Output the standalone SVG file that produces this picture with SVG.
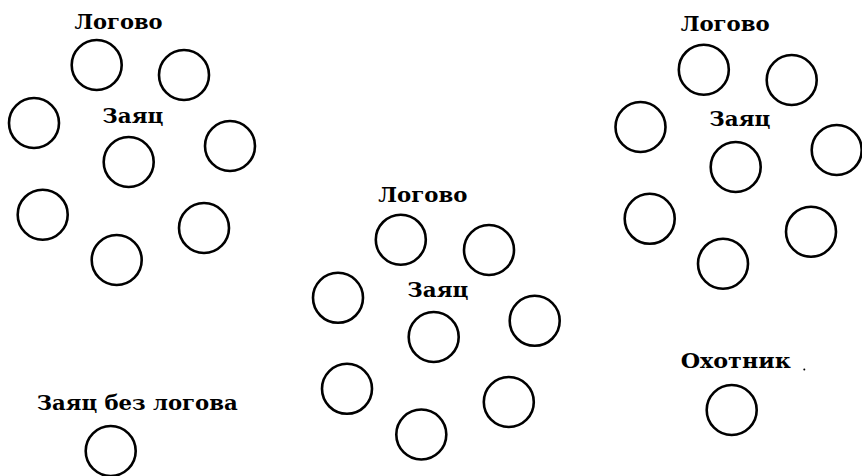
<svg xmlns="http://www.w3.org/2000/svg" width="862" height="476" viewBox="0 0 862 476">
<style>
.c{fill:none;stroke:#000;stroke-width:2.6}
.t{font-family:"DejaVu Serif","Liberation Serif",serif;font-size:20px;fill:#000;font-weight:bold}
</style>
<rect width="862" height="476" fill="#fff"/>
<g id="group1">
<text class="t" x="74.5" y="28.5" textLength="88" lengthAdjust="spacingAndGlyphs">Логово</text>
<text class="t" x="102.3" y="122.7" textLength="61" lengthAdjust="spacingAndGlyphs">Заяц</text>
<circle class="c" cx="96.7" cy="65" r="25"/>
<circle class="c" cx="184" cy="75" r="25"/>
<circle class="c" cx="34" cy="123" r="25"/>
<circle class="c" cx="128.7" cy="162" r="25"/>
<circle class="c" cx="230" cy="146" r="25"/>
<circle class="c" cx="42.7" cy="214.7" r="25"/>
<circle class="c" cx="204" cy="228" r="25"/>
<circle class="c" cx="116.7" cy="260" r="25"/>
</g>
<g id="group2">
<text class="t" x="378.3" y="201.5" textLength="89" lengthAdjust="spacingAndGlyphs">Логово</text>
<text class="t" x="407.3" y="296.5" textLength="61" lengthAdjust="spacingAndGlyphs">Заяц</text>
<circle class="c" cx="400.8" cy="239.7" r="25"/>
<circle class="c" cx="489" cy="250" r="25"/>
<circle class="c" cx="338" cy="297.8" r="25"/>
<circle class="c" cx="433.7" cy="337" r="25"/>
<circle class="c" cx="534.7" cy="320.8" r="25"/>
<circle class="c" cx="347" cy="388.8" r="25"/>
<circle class="c" cx="508.8" cy="402" r="25"/>
<circle class="c" cx="421.3" cy="434.5" r="25"/>
</g>
<g id="group3">
<text class="t" x="680.7" y="31" textLength="89" lengthAdjust="spacingAndGlyphs">Логово</text>
<text class="t" x="709.3" y="126" textLength="61" lengthAdjust="spacingAndGlyphs">Заяц</text>
<circle class="c" cx="703.8" cy="69.7" r="25"/>
<circle class="c" cx="791.7" cy="80" r="25"/>
<circle class="c" cx="640.5" cy="127" r="25"/>
<circle class="c" cx="735.7" cy="167" r="25"/>
<circle class="c" cx="836.7" cy="150" r="25"/>
<circle class="c" cx="649.7" cy="218.8" r="25"/>
<circle class="c" cx="811" cy="231.7" r="25"/>
<circle class="c" cx="723" cy="263.7" r="25"/>
</g>
<g id="hare-without-lair">
<text class="t" x="36.7" y="409.5" textLength="201" lengthAdjust="spacingAndGlyphs">Заяц без логова</text>
<circle class="c" cx="110.7" cy="451" r="25"/>
</g>
<g id="hunter">
<text class="t" x="680.7" y="368" textLength="110" lengthAdjust="spacingAndGlyphs">Охотник</text>
<circle cx="804.3" cy="369.5" r="1" fill="#000"/>
<circle class="c" cx="731.7" cy="410" r="25"/>
</g>
<g id="connectors"/>
</svg>
